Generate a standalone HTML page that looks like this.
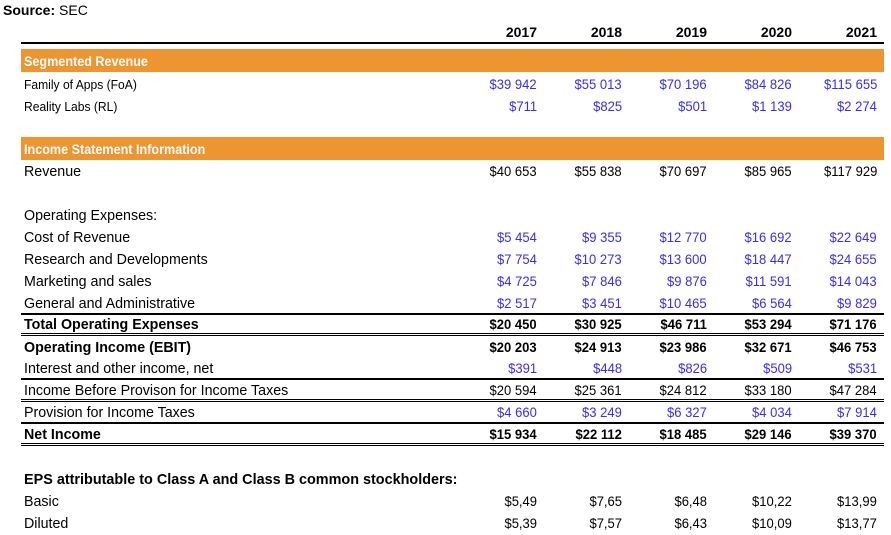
<!DOCTYPE html>
<html><head><meta charset="utf-8"><style>
*{margin:0;padding:0;box-sizing:border-box}
body{width:891px;height:533px;background:#fff;position:relative;overflow:hidden;font-family:"Liberation Sans",Arial,sans-serif;color:#000}
.r{position:absolute;left:0;width:891px;height:22px;line-height:22px;font-size:15px}
.r .l{position:absolute;left:24px;top:1px;white-space:nowrap;transform-origin:left center;transform:scaleX(0.95)}
.r span.n{position:absolute;font-size:14px;white-space:nowrap;transform-origin:right center;transform:scaleX(0.93)}
.c1{right:354px}.c2{right:269px}.c3{right:184px}.c4{right:99px}.c5{right:14px}
.b{color:#3a2cf5}
.bd{font-weight:bold}
.sm{font-size:13px!important;transform:scaleX(0.93)!important}
.bar{position:absolute;left:21px;width:863px;height:23px;background:#ED9530;color:#fff;font-weight:bold;font-size:14px;line-height:24px;padding-left:3px}
.bar span{display:inline-block;transform-origin:left center;transform:scaleX(0.9)}
.hl{position:absolute;left:21px;width:863px;height:2px;background:#000}
</style></head><body>
<div style="position:absolute;left:3px;top:2px;font-size:14px;"><b>Source:</b> SEC</div>
<div class="r bd" style="top:21px"><span class="n c1" style="transform:none">2017</span><span class="n c2" style="transform:none">2018</span><span class="n c3" style="transform:none">2019</span><span class="n c4" style="transform:none">2020</span><span class="n c5" style="transform:none">2021</span></div>
<div class="hl" style="top:42px"></div>
<div class="bar" style="top:49px"><span>Segmented Revenue</span></div>
<div class="r" style="top:73px"><span class="l sm">Family of Apps (FoA)</span><span class="n c1 b">$39 942</span><span class="n c2 b">$55 013</span><span class="n c3 b">$70 196</span><span class="n c4 b">$84 826</span><span class="n c5 b">$115 655</span></div>
<div class="r" style="top:95px"><span class="l sm">Reality Labs (RL)</span><span class="n c1 b">$711</span><span class="n c2 b">$825</span><span class="n c3 b">$501</span><span class="n c4 b">$1 139</span><span class="n c5 b">$2 274</span></div>
<div class="bar" style="top:137px"><span>Income Statement Information</span></div>
<div class="r" style="top:160px"><span class="l">Revenue</span><span class="n c1">$40 653</span><span class="n c2">$55 838</span><span class="n c3">$70 697</span><span class="n c4">$85 965</span><span class="n c5">$117 929</span></div>
<div class="r" style="top:204px"><span class="l">Operating Expenses:</span></div>
<div class="r" style="top:226px"><span class="l">Cost of Revenue</span><span class="n c1 b">$5 454</span><span class="n c2 b">$9 355</span><span class="n c3 b">$12 770</span><span class="n c4 b">$16 692</span><span class="n c5 b">$22 649</span></div>
<div class="r" style="top:248px"><span class="l">Research and Developments</span><span class="n c1 b">$7 754</span><span class="n c2 b">$10 273</span><span class="n c3 b">$13 600</span><span class="n c4 b">$18 447</span><span class="n c5 b">$24 655</span></div>
<div class="r" style="top:270px"><span class="l">Marketing and sales</span><span class="n c1 b">$4 725</span><span class="n c2 b">$7 846</span><span class="n c3 b">$9 876</span><span class="n c4 b">$11 591</span><span class="n c5 b">$14 043</span></div>
<div class="r" style="top:292px"><span class="l">General and Administrative</span><span class="n c1 b">$2 517</span><span class="n c2 b">$3 451</span><span class="n c3 b">$10 465</span><span class="n c4 b">$6 564</span><span class="n c5 b">$9 829</span></div>
<div class="hl" style="top:313px"></div>
<div class="r bd" style="top:313px"><span class="l">Total Operating Expenses</span><span class="n c1">$20 450</span><span class="n c2">$30 925</span><span class="n c3">$46 711</span><span class="n c4">$53 294</span><span class="n c5">$71 176</span></div>
<div class="hl" style="top:333px;height:1px"></div><div class="hl" style="top:335px;height:1px"></div>
<div class="r bd" style="top:336px"><span class="l">Operating Income (EBIT)</span><span class="n c1">$20 203</span><span class="n c2">$24 913</span><span class="n c3">$23 986</span><span class="n c4">$32 671</span><span class="n c5">$46 753</span></div>
<div class="r" style="top:357px"><span class="l">Interest and other income, net</span><span class="n c1 b">$391</span><span class="n c2 b">$448</span><span class="n c3 b">$826</span><span class="n c4 b">$509</span><span class="n c5 b">$531</span></div>
<div class="hl" style="top:378px"></div>
<div class="r" style="top:379px"><span class="l">Income Before Provison for Income Taxes</span><span class="n c1">$20 594</span><span class="n c2">$25 361</span><span class="n c3">$24 812</span><span class="n c4">$33 180</span><span class="n c5">$47 284</span></div>
<div class="hl" style="top:399px;height:1px"></div><div class="hl" style="top:401px;height:1px"></div>
<div class="r" style="top:401px"><span class="l">Provision for Income Taxes</span><span class="n c1 b">$4 660</span><span class="n c2 b">$3 249</span><span class="n c3 b">$6 327</span><span class="n c4 b">$4 034</span><span class="n c5 b">$7 914</span></div>
<div class="hl" style="top:422px"></div>
<div class="r bd" style="top:423px"><span class="l">Net Income</span><span class="n c1">$15 934</span><span class="n c2">$22 112</span><span class="n c3">$18 485</span><span class="n c4">$29 146</span><span class="n c5">$39 370</span></div>
<div class="hl" style="top:443px;height:1px"></div><div class="hl" style="top:445px;height:1px"></div>
<div class="r bd" style="top:468px"><span class="l" style="transform:scaleX(0.96)">EPS attributable to Class A and Class B common stockholders:</span></div>
<div class="r" style="top:490px"><span class="l">Basic</span><span class="n c1">$5,49</span><span class="n c2">$7,65</span><span class="n c3">$6,48</span><span class="n c4">$10,22</span><span class="n c5">$13,99</span></div>
<div class="r" style="top:512px"><span class="l">Diluted</span><span class="n c1">$5,39</span><span class="n c2">$7,57</span><span class="n c3">$6,43</span><span class="n c4">$10,09</span><span class="n c5">$13,77</span></div>
</body></html>
